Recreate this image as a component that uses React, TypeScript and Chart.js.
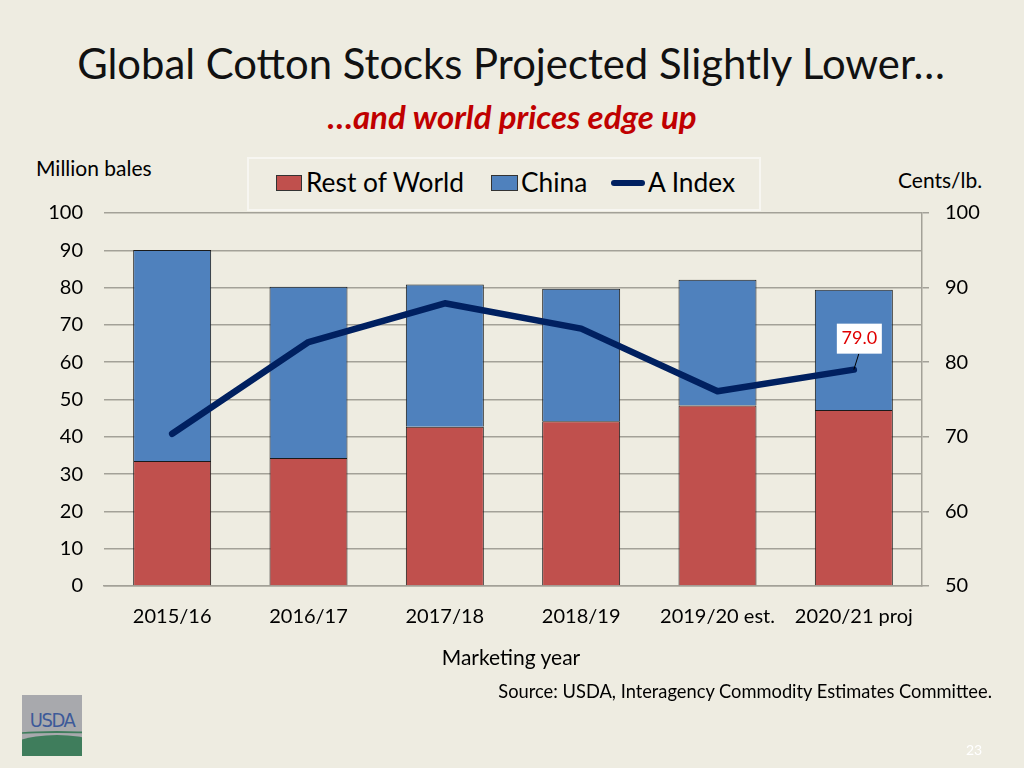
import React, { useEffect, useRef } from "react";
import { Chart, registerables } from "chart.js";

Chart.register(...registerables);

const CATEGORIES = ["2015/16", "2016/17", "2017/18", "2018/19", "2019/20 est.", "2020/21 proj"];
const REST_OF_WORLD = [33.5, 34.3, 42.7, 44.2, 48.4, 47.2];
const CHINA = [56.6, 45.9, 38.1, 35.5, 33.7, 32.2];
const A_INDEX = [70.4, 82.7, 87.9, 84.5, 76.1, 79.0];
const LEFT_TICKS = { min: 0, max: 100, step: 10 };
const RIGHT_TICKS = { min: 50, max: 100, step: 10 };

const FONT = "Lato, 'Open Sans', sans-serif";
const BG = "#EEECE1";
const RED = "#C0504D";
const BLUE = "#4F81BD";
const NAVY = "#002060";
const GRID = "#A3A198";

const labelPlugin = {
  id: "lastLabel",
  afterDatasetsDraw(chart: any) {
    const meta = chart.getDatasetMeta(2);
    const pt = meta.data[meta.data.length - 1];
    if (!pt) return;
    const ctx = chart.ctx;
    const x = pt.x;
    const y = pt.y;
    ctx.save();
    ctx.strokeStyle = "#000";
    ctx.lineWidth = 1;
    ctx.beginPath();
    ctx.moveTo(x, y);
    ctx.lineTo(x + 5, y - 16);
    ctx.stroke();
    ctx.fillStyle = "#FFFFFF";
    ctx.fillRect(x - 17, y - 46, 45, 30);
    ctx.fillStyle = "#E00000";
    ctx.font = `18px ${FONT}`;
    ctx.textAlign = "center";
    ctx.textBaseline = "middle";
    ctx.fillText(A_INDEX[A_INDEX.length - 1].toFixed(1), x + 5.5, y - 31);
    ctx.restore();
  },
};

export default function App() {
  const ref = useRef<HTMLCanvasElement>(null);

  useEffect(() => {
    if (!ref.current) return;
    const chart = new Chart(ref.current, {
      type: "bar",
      data: {
        labels: CATEGORIES,
        datasets: [
          {
            type: "bar",
            label: "Rest of World",
            data: REST_OF_WORLD,
            backgroundColor: RED,
            borderColor: "#1a1a1a",
            borderWidth: 1,
            yAxisID: "y",
            order: 1,
            barPercentage: 0.572,
            categoryPercentage: 1,
          },
          {
            type: "bar",
            label: "China",
            data: CHINA,
            backgroundColor: BLUE,
            borderColor: "#1a1a1a",
            borderWidth: 1,
            yAxisID: "y",
            order: 1,
            barPercentage: 0.572,
            categoryPercentage: 1,
          },
          {
            type: "line",
            label: "A Index",
            data: A_INDEX,
            borderColor: NAVY,
            backgroundColor: NAVY,
            borderWidth: 6.5,
            pointRadius: 0,
            tension: 0,
            borderCapStyle: "round",
            borderJoinStyle: "round",
            yAxisID: "y1",
            order: 0,
          } as any,
        ],
      },
      options: {
        responsive: false,
        animation: false,
        devicePixelRatio: 1,
        layout: { padding: { top: 213, left: 44, right: 42, bottom: 122 } },
        plugins: {
          legend: { display: false },
          tooltip: { enabled: false },
          title: { display: false },
        },
        scales: {
          x: {
            stacked: true,
            grid: { display: false },
            border: { display: true, color: GRID, width: 1.5 },
            ticks: { font: { family: FONT, size: 20 }, color: "#000", padding: 11 },
            afterFit: (s: any) => {
              s.height = 60;
            },
          },
          y: {
            stacked: true,
            position: "left",
            min: LEFT_TICKS.min,
            max: LEFT_TICKS.max,
            ticks: { stepSize: LEFT_TICKS.step, font: { family: FONT, size: 20 }, color: "#000", padding: 21 },
            grid: { color: GRID, lineWidth: 1.5, drawTicks: false },
            border: { display: false },
            afterFit: (s: any) => {
              s.width = 60;
            },
          },
          y1: {
            position: "right",
            min: RIGHT_TICKS.min,
            max: RIGHT_TICKS.max,
            ticks: { stepSize: RIGHT_TICKS.step, font: { family: FONT, size: 20 }, color: "#000", padding: 16 },
            grid: { drawOnChartArea: false, drawTicks: true, tickLength: 7, color: GRID, lineWidth: 1.5 },
            border: { display: true, color: GRID, width: 1.5 },
            afterFit: (s: any) => {
              s.width = 60;
            },
          },
        },
      },
      plugins: [labelPlugin],
    });
    return () => chart.destroy();
  }, []);

  const abs = (o: React.CSSProperties): React.CSSProperties => ({ position: "absolute", whiteSpace: "nowrap", ...o });

  return (
    <div style={{ position: "absolute", left: 0, top: 0, width: 1024, height: 768, background: BG, fontFamily: FONT, overflow: "hidden" }}>
      <div style={abs({ left: 0, width: 1024, top: 37, textAlign: "center", fontSize: 41.8, color: "#111", lineHeight: "52px" })}>
        <span style={{ position: "relative", left: -1 }}>Global Cotton Stocks Projected Slightly Lower…</span>
      </div>
      <div style={abs({ left: 0, width: 1024, top: 97, textAlign: "center", fontSize: 33, color: "#C00000", fontWeight: 700, fontStyle: "italic", lineHeight: "38px" })}>
        …and world prices edge up
      </div>
      <div style={abs({ left: 36, top: 155, fontSize: 21, lineHeight: "26px", color: "#000" })}>Million bales</div>
      <div style={abs({ left: 898, top: 167, fontSize: 21, lineHeight: "26px", color: "#000" })}>Cents/lb.</div>

      <div style={abs({ left: 247, top: 157, width: 510, height: 50, border: "2px solid #F7F6F1", boxSizing: "content-box" })} />
      <div style={abs({ left: 276, top: 175, width: 26, height: 16, background: RED, border: "1px solid #333", boxSizing: "border-box" })} />
      <div style={abs({ left: 306, top: 166, fontSize: 26.3, lineHeight: "32px", color: "#000" })}>Rest of World</div>
      <div style={abs({ left: 491, top: 175, width: 27, height: 16, background: BLUE, border: "1px solid #333", boxSizing: "border-box" })} />
      <div style={abs({ left: 521, top: 166, fontSize: 26.3, lineHeight: "32px", color: "#000" })}>China</div>
      <div style={abs({ left: 611, top: 180, width: 34, height: 6, background: NAVY, borderRadius: 3 })} />
      <div style={abs({ left: 648, top: 166, fontSize: 26.3, lineHeight: "32px", color: "#000" })}>A Index</div>

      <canvas ref={ref} width={1024} height={768} style={{ position: "absolute", left: 0, top: 0, width: 1024, height: 768 }} />

      <div style={abs({ left: 0, width: 1024, top: 644, textAlign: "center", fontSize: 21, lineHeight: "26px", color: "#000" })}>
        <span style={{ position: "relative", left: -1 }}>Marketing year</span>
      </div>
      <div style={abs({ right: 32, top: 679, fontSize: 18.3, lineHeight: "24px", color: "#000" })}>
        Source: USDA, Interagency Commodity Estimates Committee.
      </div>
      <div style={abs({ left: 966, top: 741, fontSize: 14, lineHeight: "18px", color: "#FFFFFF" })}>23</div>

      <div style={abs({ left: 22, top: 695, width: 60, height: 61, background: "#A8A9AD", overflow: "hidden" })}>
        <div style={abs({ left: 0, top: 14, width: 60, textAlign: "center", fontFamily: "'DejaVu Sans Condensed', 'Liberation Sans Narrow', sans-serif", fontSize: 20, letterSpacing: -1.5, color: "#3D5A99", lineHeight: "22px" })}>USDA</div>
        <div style={abs({ left: -20, top: 40, width: 110, height: 40, borderRadius: "50% 50% 0 0", background: "#3F7D5C" })} />
        <div style={abs({ left: -20, top: 36, width: 110, height: 8, borderRadius: "50%", borderTop: "2px solid #3F7D5C" })} />
      </div>
    </div>
  );
}
